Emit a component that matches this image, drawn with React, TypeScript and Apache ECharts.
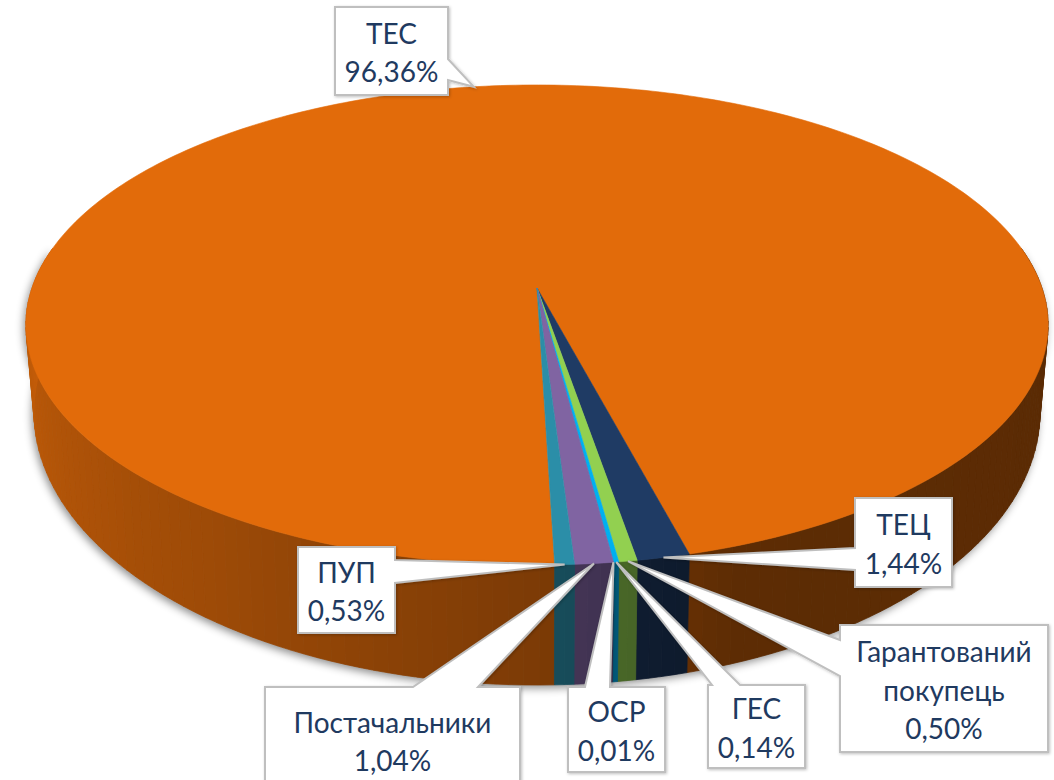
import React, { useEffect, useRef } from "react";
import * as echarts from "echarts";

// ---------- data ----------
const categories = ["ТЕС", "ТЕЦ", "Гарантований покупець", "ГЕС", "ОСР", "Постачальники", "ПУП"];
const shares = [96.36, 1.44, 0.5, 0.14, 0.01, 1.04, 0.53];
const sliceColors = ["#E26B0A", "#1F3B64", "#92D050", "#00B0F0", "#4F81BD", "#8064A2", "#2B8EA8"];

// ---------- layout ----------
const W = 1054;
const H = 780;
const CX = 537;
const PERSP = 0.154;
const TOPF = { cy: 288, A: 234.3, R: 505 };
const BOTF = { cy: 370, A: 266.5, R: 497 };
const START_ANGLE = 178.3; // degrees, clockwise from the back
const TEXT_COLOR = "#1F3A60";
const FONT = "Lato, 'Noto Sans', sans-serif";

type Box = { x: number; y: number; w: number; h: number; side: "top" | "left" | "right"; b0: number; b1: number };
const labelBoxes: Box[] = [
  { x: 335, y: 7, w: 113, h: 88, side: "right", b0: 59, b1: 80 },
  { x: 855, y: 498, w: 97, h: 89, side: "left", b0: 548, b1: 570 },
  { x: 840, y: 625, w: 208, h: 127, side: "left", b0: 640, b1: 676 },
  { x: 708, y: 685, w: 97, h: 83, side: "top", b0: 712, b1: 740 },
  { x: 568, y: 687, w: 97, h: 85, side: "top", b0: 585, b1: 610 },
  { x: 265, y: 687, w: 255, h: 106, side: "top", b0: 413, b1: 478 },
  { x: 298, y: 547, w: 97, h: 86, side: "right", b0: 560, b1: 583 },
];

const total = shares.reduce((a, b) => a + b, 0);
const sliceAngles: [number, number][] = [];
{
  let a = START_ANGLE;
  for (const v of shares) {
    const span = (v / total) * 360;
    sliceAngles.push([a, a + span]);
    a += span;
  }
}

type Face = { cy: number; A: number; R: number };
function proj(f: Face, deg: number): [number, number] {
  const t = (deg * Math.PI) / 180;
  const X = Math.sin(t);
  const Z = Math.cos(t);
  const w = 1 + PERSP * Z;
  return [CX + (f.R * X) / w, f.cy - (f.A * Z) / w];
}

const SHADE: [number, number][] = [
  [80, 0.4],
  [160, 0.41],
  [180, 0.55],
  [215, 0.7],
  [280, 0.9],
];
function shadeAt(deg: number): number {
  let d = ((deg % 360) + 360) % 360;
  if (d < SHADE[0][0]) d = SHADE[0][0];
  if (d > SHADE[SHADE.length - 1][0]) d = SHADE[SHADE.length - 1][0];
  for (let i = 0; i < SHADE.length - 1; i++) {
    const [a0, v0] = SHADE[i];
    const [a1, v1] = SHADE[i + 1];
    if (d >= a0 && d <= a1) return v0 + ((d - a0) / (a1 - a0)) * (v1 - v0);
  }
  return SHADE[SHADE.length - 1][1];
}
function mulColor(hex: string, k: number): string {
  const n = parseInt(hex.slice(1), 16);
  const r = Math.round(((n >> 16) & 255) * k);
  const g = Math.round(((n >> 8) & 255) * k);
  const b = Math.round((n & 255) * k);
  return `rgb(${r},${g},${b})`;
}

function fmtPct(v: number): string {
  return v.toFixed(2).replace(".", ",") + "%";
}

function calloutPoints(b: Box, tip: [number, number]): number[][] {
  const { x, y, w, h } = b;
  const pts: number[][] = [[x, y]];
  if (b.side === "top") pts.push([b.b0, y], tip, [b.b1, y]);
  pts.push([x + w, y]);
  if (b.side === "right") pts.push([x + w, b.b0], tip, [x + w, b.b1]);
  pts.push([x + w, y + h], [x, y + h]);
  if (b.side === "left") pts.push([x, b.b1], tip, [x, b.b0]);
  return pts;
}

export default function App() {
  const ref = useRef<HTMLDivElement>(null);
  useEffect(() => {
    if (!ref.current) return;
    const chart = echarts.init(ref.current, undefined, { renderer: "svg" });

    const sideVisible: [number, number][] = [[80, 280]];

    const renderSide = (params: any) => {
      const i = params.dataIndex;
      const [a0, a1] = sliceAngles[i];
      const children: any[] = [];
      for (const off of [0, 360, 720]) {
        for (const [v0, v1] of sideVisible) {
          const s = Math.max(a0, v0 + off);
          const e = Math.min(a1, v1 + off);
          if (e <= s) continue;
          const n = Math.max(1, Math.ceil((e - s) / 1.5));
          for (let k = 0; k < n; k++) {
            const ta = s + ((e - s) * k) / n;
            const tb = s + ((e - s) * (k + 1)) / n;
            const fill = mulColor(sliceColors[i], shadeAt((ta + tb) / 2));
            children.push({
              type: "polygon",
              shape: { points: [proj(TOPF, ta), proj(TOPF, tb), proj(BOTF, tb), proj(BOTF, ta)] },
              style: { fill, stroke: fill, lineWidth: 0.8 },
            });
          }
        }
      }
      return { type: "group", children };
    };

    const renderTop = (params: any) => {
      const i = params.dataIndex;
      const [a0, a1] = sliceAngles[i];
      const n = Math.max(2, Math.ceil((a1 - a0) / 1));
      const pts: number[][] = [[CX, TOPF.cy]];
      for (let k = 0; k <= n; k++) pts.push(proj(TOPF, a0 + ((a1 - a0) * k) / n));
      const fill = sliceColors[i];
      return {
        type: "polygon",
        shape: { points: pts },
        style: { fill, stroke: fill, lineWidth: 0.6 },
      };
    };

    // silhouette for drop shadow
    const shadowPts: number[][] = [];
    for (let d = 80; d <= 280; d += 2) shadowPts.push(proj(TOPF, d));
    for (let d = 280; d >= 80; d -= 2) shadowPts.push(proj(BOTF, d));

    const graphics: any[] = [
      {
        type: "polygon",
        z: 0,
        silent: true,
        shape: { points: shadowPts },
        style: {
          fill: "#8a8a8a",
          shadowBlur: 8,
          shadowColor: "rgba(0,0,0,0.45)",
          shadowOffsetX: -2,
          shadowOffsetY: 3,
        },
      },
    ];

    categories.forEach((name, i) => {
      const b = labelBoxes[i];
      const [a0, a1] = sliceAngles[i];
      const tip = proj(TOPF, (a0 + a1) / 2);
      graphics.push({
        type: "polygon",
        z: 100,
        silent: true,
        shape: { points: calloutPoints(b, tip) },
        style: {
          fill: "#ffffff",
          stroke: "#BFBFBF",
          lineWidth: 2,
          shadowBlur: 3,
          shadowColor: "rgba(0,0,0,0.25)",
          shadowOffsetX: 1,
          shadowOffsetY: 1,
        },
      });
      const text = name.replace(" ", "\n") + "\n" + fmtPct(shares[i]);
      graphics.push({
        type: "text",
        z: 101,
        silent: true,
        style: {
          text,
          x: b.x + b.w / 2,
          y: b.y + b.h / 2 + 1,
          fill: TEXT_COLOR,
          fontSize: 28,
          fontFamily: FONT,
          lineHeight: 38.5,
          align: "center",
          verticalAlign: "middle",
          textAlign: "center",
          textVerticalAlign: "middle",
        },
      });
    });

    chart.setOption({
      animation: false,
      backgroundColor: "#ffffff",
      graphic: { elements: graphics },
      series: [
        {
          type: "custom",
          name: "side",
          coordinateSystem: "none",
          z: 2,
          silent: true,
          data: shares.map((v, i) => ({ name: categories[i], value: v })),
          renderItem: renderSide,
        },
        {
          type: "custom",
          name: "top",
          coordinateSystem: "none",
          z: 3,
          silent: true,
          data: shares.map((v, i) => ({ name: categories[i], value: v })),
          renderItem: renderTop,
        },
      ],
    });
    return () => chart.dispose();
  }, []);
  return (
    <div
      ref={ref}
      style={{ position: "fixed", left: 0, top: 0, width: W, height: H, background: "#fff" }}
    />
  );
}
